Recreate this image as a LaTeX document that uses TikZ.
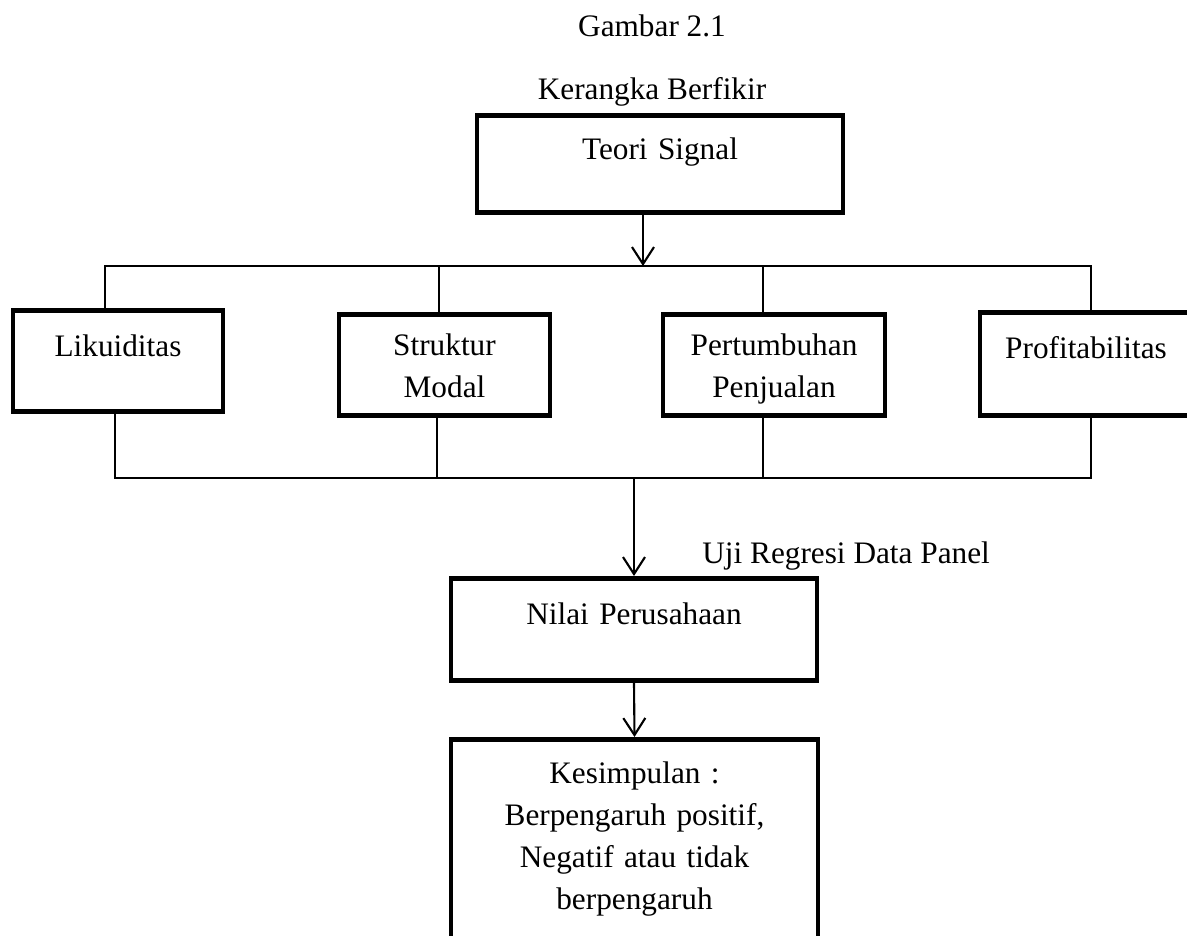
\documentclass[tikz,border=0pt]{standalone}
\usepackage{fontspec}
\setmainfont{Liberation Serif}
\usetikzlibrary{arrows.meta}

\begin{document}
\begin{tikzpicture}[x=0.02cm,y=-0.02cm,
box/.style={draw,line width=2.7pt,inner sep=0pt,align=center,anchor=north,font=\fontsize{17.8}{23.9}\selectfont},
lbl/.style={inner sep=0pt,font=\fontsize{17.8}{23.9}\selectfont},
wire/.style={line width=0.95pt},
arr/.style={-{Straight Barb[length=3.4mm,width=4.4mm]},line width=1.2pt}]
\useasboundingbox (0,0) rectangle (1187,936);
\node[lbl,anchor=base] (gambar) at (652,37) {Gambar 2.1};
\node[lbl,anchor=base] (kerangka) at (652,100) {Kerangka Berfikir};
\node[box,text width=7.32cm,text height=0.88cm,text depth=1.06cm] (teori) at (660,113) {Teori Signal};
\node[box,text width=4.2cm,text height=0.92cm,text depth=1.1cm] (likuid) at (118,308) {Likuiditas};
\node[box,text width=4.22cm,text height=0.82cm,text depth=1.2cm] (struktur) at (444.5,312) {Struktur\\ Modal};
\node[box,text width=4.44cm,text height=0.82cm,text depth=1.2cm] (tumbuh) at (774,312) {Pertumbuhan\\ Penjualan};
\node[box,text width=4.24cm,text height=0.92cm,text depth=1.14cm] (profit) at (1086,310) {Profitabilitas};
\node[box,text width=7.32cm,text height=0.92cm,text depth=1.12cm] (nilai) at (634,576) {Nilai Perusahaan};
\node[box,text width=7.34cm,text height=0.88cm,text depth=3.58cm] (simpul) at (634.5,737) {Kesimpulan :\\ Berpengaruh positif,\\ Negatif atau tidak\\ berpengaruh};
\node[lbl,anchor=base west] (uji) at (702,563) {Uji Regresi Data Panel};
\coordinate (bustop) at (643,266);
\coordinate (busbot) at (633,478);
% teori -> variabel
\draw[arr] ([xshift=-0.34cm]teori.south) -- ([xshift=-0.34cm]teori.south |- bustop);
\draw[wire] ([xshift=-0.26cm]likuid.north) |- ([xshift=0.1cm]profit.north |- bustop) -- ([xshift=0.1cm]profit.north);
\draw[wire] ([xshift=-0.11cm]struktur.north) -- ([xshift=-0.11cm]struktur.north |- bustop);
\draw[wire] ([xshift=-0.22cm]tumbuh.north) -- ([xshift=-0.22cm]tumbuh.north |- bustop);
% variabel -> nilai
\draw[wire] ([xshift=-0.06cm]likuid.south) |- ([xshift=0.1cm]profit.south |- busbot) -- ([xshift=0.1cm]profit.south);
\draw[wire] ([xshift=-0.15cm]struktur.south) -- ([xshift=-0.15cm]struktur.south |- busbot);
\draw[wire] ([xshift=-0.22cm]tumbuh.south) -- ([xshift=-0.22cm]tumbuh.south |- busbot);
\draw[arr] (nilai.north |- busbot) -- (nilai.north);
\draw[arr] (nilai.south) -- (simpul.north);
\end{tikzpicture}
\end{document}
